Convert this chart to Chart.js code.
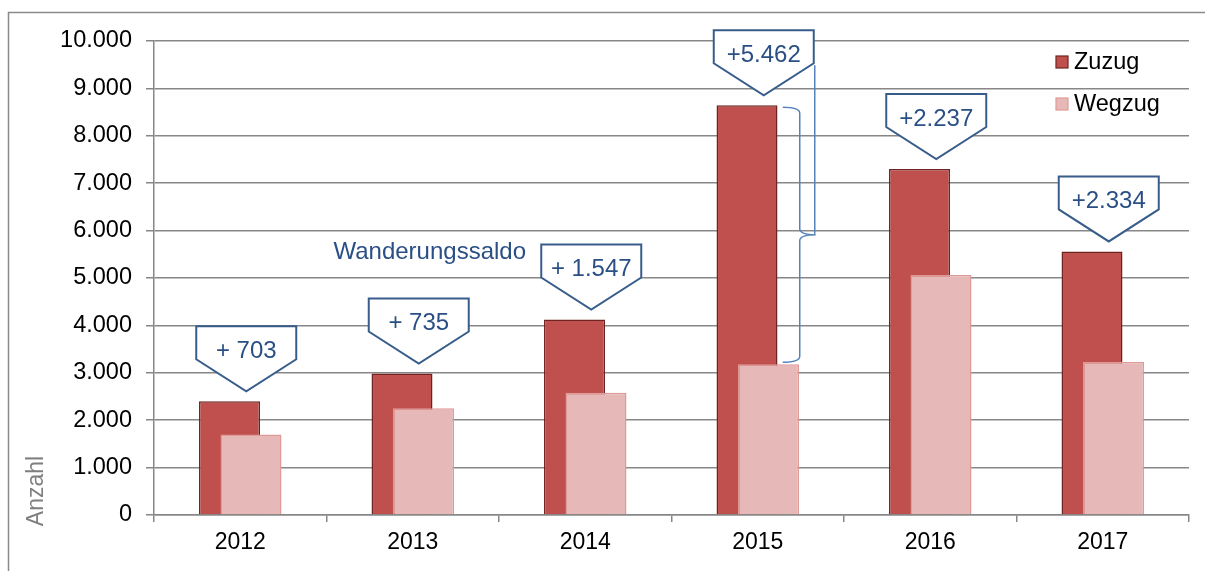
<!DOCTYPE html>
<html>
<head>
<meta charset="utf-8">
<script src="https://cdn.jsdelivr.net/npm/chart.js@4"></script>
<style>
  body { margin: 0; background: #fff; }
  #wrap { width: 1205px; height: 571px; position: relative; }
</style>
</head>
<body>
<div id="wrap"><canvas id="migrationChart"></canvas></div>
<script>
const years = ['2012', '2013', '2014', '2015', '2016', '2017'];
const zuzug = [2400, 2985, 4125, 8645, 7300, 5560];
const wegzug = [1697, 2250, 2578, 3183, 5063, 3226];
const saldoLabels = ['+ 703', '+ 735', '+ 1.547', '+5.462', '+2.237', '+2.334'];
const yTicks = [0, 1000, 2000, 3000, 4000, 5000, 6000, 7000, 8000, 9000, 10000];

const FONT = '"Liberation Sans", Arial, sans-serif';
const gridColor = '#878787';
const calloutBlue = '#385d8a';
const textBlue = '#2a4f85';
const braceBlue = '#5582bd';

const fmt = v => String(v).replace(/\B(?=(\d{3})+(?!\d))/g, '.');

// Wegzug overlaps Zuzug, so draw it after the first dataset
const overlapOrder = {
    id: 'overlapOrder',
    beforeDatasetDraw: (chart, args) => args.index !== 1,
    afterDatasetsDraw(chart) {
        chart.getDatasetMeta(1).controller.draw();
    }
};

const decorations = {
    id: 'decorations',
    beforeDraw(chart) {
        const ctx = chart.ctx;
        ctx.save();
        ctx.fillStyle = '#fff';
        ctx.fillRect(0, 0, chart.width, chart.height);
        ctx.strokeStyle = '#8a8a8a';
        ctx.lineWidth = 1.5;
        ctx.strokeRect(8.5, 12.5, chart.width + 10, chart.height + 10);
        ctx.restore();
    },
    afterDraw(chart) {
        const ctx = chart.ctx;
        const x = chart.scales.x, y = chart.scales.y;
        ctx.save();

        // callouts
        ctx.font = '24px ' + FONT;
        ctx.textAlign = 'center';
        ctx.textBaseline = 'middle';
        years.forEach((yr, i) => {
            const cx = x.getPixelForValue(i) + 6;
            const tip = y.getPixelForValue(zuzug[i]) - 10;
            const top = tip - 65;
            ctx.beginPath();
            ctx.moveTo(cx - 50, top);
            ctx.lineTo(cx + 50, top);
            ctx.lineTo(cx + 50, top + 33);
            ctx.lineTo(cx, tip);
            ctx.lineTo(cx - 50, top + 33);
            ctx.closePath();
            ctx.fillStyle = '#fff';
            ctx.fill();
            ctx.strokeStyle = calloutBlue;
            ctx.lineWidth = 2;
            ctx.stroke();
            ctx.fillStyle = textBlue;
            ctx.fillText(saldoLabels[i], cx, top + 25);
        });

        // brace for 2015
        const b = 3;
        const bx = x.getPixelForValue(b) + 25;
        const bTop = y.getPixelForValue(zuzug[b]) + 2;
        const bBot = y.getPixelForValue(wegzug[b]) - 2;
        const bMid = (bTop + bBot) / 2;
        ctx.strokeStyle = braceBlue;
        ctx.lineWidth = 1.5;
        ctx.beginPath();
        ctx.moveTo(bx, bTop);
        ctx.quadraticCurveTo(bx + 17, bTop, bx + 17, bTop + 6);
        ctx.lineTo(bx + 17, bMid - 6);
        ctx.quadraticCurveTo(bx + 17, bMid, bx + 33, bMid);
        ctx.quadraticCurveTo(bx + 17, bMid, bx + 17, bMid + 6);
        ctx.lineTo(bx + 17, bBot - 6);
        ctx.quadraticCurveTo(bx + 17, bBot, bx, bBot);
        ctx.stroke();
        // leader from the callout down to the brace
        const lTop = y.getPixelForValue(zuzug[b]) - 10 - 65 + 35;
        ctx.beginPath();
        ctx.moveTo(bx + 32, lTop);
        ctx.lineTo(bx + 32, bMid - 1);
        ctx.stroke();

        // Wanderungssaldo
        ctx.fillStyle = textBlue;
        ctx.font = '24px ' + FONT;
        ctx.textAlign = 'center';
        ctx.fillText('Wanderungssaldo', x.getPixelForValue(1) + 17, y.getPixelForValue(5540));

        // legend
        ctx.font = '23.5px ' + FONT;
        const ds = chart.data.datasets;
        const lx = 1056;
        [62, 104].forEach((ly, i) => {
            ctx.fillStyle = ds[i].backgroundColor;
            ctx.fillRect(lx, ly - 6, 12, 12);
            ctx.strokeStyle = ds[i].borderColor;
            ctx.lineWidth = 1.2;
            ctx.strokeRect(lx, ly - 6, 12, 12);
            ctx.fillStyle = '#000';
            ctx.textAlign = 'left';
            ctx.fillText(ds[i].label, lx + 18, ly + 1);
        });

        // axis title
        ctx.font = '23px ' + FONT;
        ctx.translate(37, 491);
        ctx.rotate(-Math.PI / 2);
        ctx.fillStyle = '#7f7f7f';
        ctx.textAlign = 'center';
        ctx.fillText('Anzahl', 0, 0);
        ctx.restore();
    }
};

new Chart(document.getElementById('migrationChart'), {
    type: 'bar',
    data: {
        labels: years,
        datasets: [{
            label: 'Zuzug',
            data: zuzug,
            backgroundColor: '#c0504d',
            borderColor: '#6e2422',
            borderWidth: 1.5,
            categoryPercentage: 0.249,
            barPercentage: 2.84
        }, {
            label: 'Wegzug',
            data: wegzug,
            backgroundColor: '#e6b8b7',
            borderColor: '#df9a98',
            borderWidth: 1.5,
            categoryPercentage: 0.249,
            barPercentage: 2.84
        }]
    },
    options: {
        responsive: true,
        maintainAspectRatio: false,
        animation: false,
        layout: { padding: { top: 41, right: 16, bottom: 0, left: 0 } },
        plugins: {
            legend: { display: false },
            tooltip: { enabled: false }
        },
        scales: {
            x: {
                afterFit: s => { s.height = 56; },
                grid: { drawOnChartArea: false, tickLength: 7, color: gridColor, lineWidth: 1.5 },
                border: { color: gridColor, width: 1.5 },
                ticks: { color: '#000', font: { size: 23, family: FONT }, padding: 7 }
            },
            y: {
                min: 0,
                max: 10000,
                afterFit: s => { s.width = 154; },
                afterBuildTicks: s => { s.ticks = yTicks.map(v => ({ value: v })); },
                grid: { color: gridColor, lineWidth: 1.5, tickLength: 8 },
                border: { color: gridColor, width: 1.5 },
                ticks: { color: '#000', font: { size: 23.5, family: FONT }, padding: 14, callback: v => fmt(v) }
            }
        }
    },
    plugins: [overlapOrder, decorations]
});
</script>
</body>
</html>
